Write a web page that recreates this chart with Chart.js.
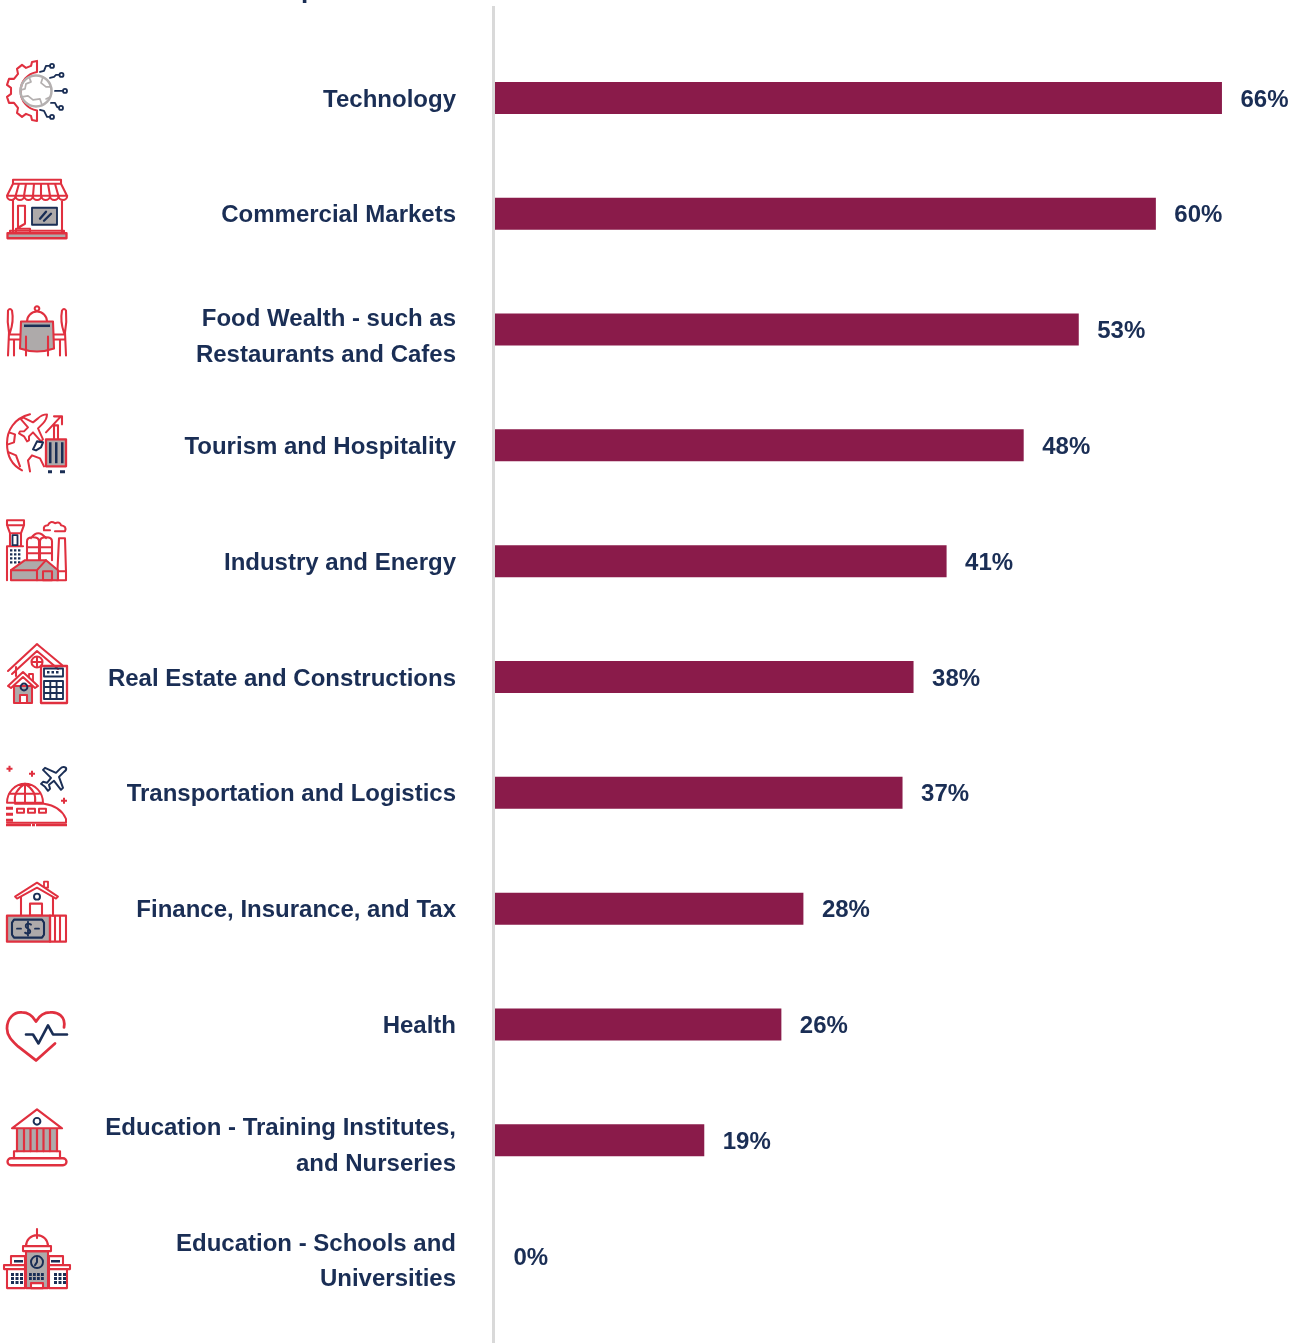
<!DOCTYPE html>
<html><head><meta charset="utf-8">
<style>html,body{margin:0;padding:0;background:#fff;overflow:hidden}canvas{display:block}</style>
<script src="https://cdn.jsdelivr.net/npm/chart.js@4"></script>
</head><body><canvas id="c" width="1305" height="1343"></canvas>
<script>
const categories = [
  "Technology","Commercial Markets",["Food Wealth - such as","Restaurants and Cafes"],
  "Tourism and Hospitality","Industry and Energy","Real Estate and Constructions",
  "Transportation and Logistics","Finance, Insurance, and Tax","Health",
  ["Education - Training Institutes,","and Nurseries"],["Education - Schools and","Universities"]
];
const values = [66,60,53,48,41,38,37,28,26,19,0];
const NAVY="#1a2e55", RED="#e0303f", GREY="#aeaaaa", BAR="#8a1b4a";
const FAMILY='"Liberation Sans", Arial, sans-serif';
const FONT='700 24px '+FAMILY;

/* icon path helpers */
const c=(x,y,r)=>`M${x-r} ${y}a${r} ${r} 0 1 0 ${2*r} 0a${r} ${r} 0 1 0 ${-2*r} 0Z`;
const r=(x,y,w,h)=>`M${x} ${y}h${w}v${h}h${-w}Z`;
const grid=(xs,ys,w,h)=>xs.map(x=>ys.map(y=>r(x,y,w,h)).join("")).join("");
const plus=(x,y)=>r(x-1,y-3,2,6)+r(x-3,y-1,6,2);
const S=(d,col,w=2,fill)=>({d,col,w,fill});
const F=(d,fill)=>({d,fill});
const icons=[
 {cy:98,l:[
  S("M37 72V61L32 62L31 66L26 68L22 65L17 69L18 74L14 79L9 79L7 85L11 88L11 94L7 97L9 103L14 103L18 108L17 113L22 117L26 114L31 116L32 120L37 121V110.5A19.5 19.5 0 0 1 37 72Z",RED,1.8),
  S(c(36,91,15.5),"#b4b0b0",2.2),
  S("M29 77L31 82L26 84L25 89L21 90M43 77L41 83L46 87L51 87M22 97L28 96L33 100L40 99L42 105M46 99L50 97","#b4b0b0",1.5),
  S("M40 72L44 71L46 66L50 66"+c(52,66,2)+"M50 78L54 77L56 75L59 75"+c(61.5,75,2)+"M55 91H63"+c(65,91,2)+"M51 103L55 103L57 107L59 108"+c(61,108,2)+"M40 110L44 111L47 117L50 117"+c(52,117,2),NAVY,1.6)]},
 {cy:214,l:[
  S("M13 180H61V184H13ZM13 184L7 196H67L61 184M7 196a4.3 4.3 0 0 0 8.6 0a4.3 4.3 0 0 0 8.6 0a4.3 4.3 0 0 0 8.6 0a4.3 4.3 0 0 0 8.6 0a4.3 4.3 0 0 0 8.6 0a4.3 4.3 0 0 0 8.6 0a4.3 4.3 0 0 0 8.6 0M15.6 196L19 184M24 196L26 184M33 196L34 184M41 196L41 184M50 196L48 184M58.4 196L55 184M13 200V232M62 200V232M18 229V206H25V224L18 228M16 232V229H30V232",RED,1.8),
  S(r(32,208,25,17),NAVY,1.6,GREY),S("M40 219L46 212M44 221L51 214",NAVY,2),
  S("M10 233V231H64V233",RED,1.8),S(r(7.5,233.5,59,5),RED,2,GREY)]},
 {cy:330,l:[
  S("M27 322A10 10 0 0 1 47 322"+c(37,309,2.3),RED,1.8),
  S("M21 322H53L54 349Q37 355 20 349Z",RED,1.8,GREY),F(r(24,325,26,2.5),NAVY),
  S("M26 337V356M48 337V356M8 311Q10 308 12 311Q14 322 10 333L9 333Q7 322 8 311ZM9 333L8 356M10 335H20M10 340H20M14 340V356M66 311Q64 308 62 311Q60 322 64 333L65 333Q67 322 66 311ZM65 333L66 356M64 335H54M64 340H54M60 340V356",RED,1.8)]},
 {cy:445,l:[
  S("M30 414C14 418 7 430 7 443C7 455 12 465 22 470M9 432L15 434L14 442L8 444M9 452L16 455L20 466M30 471L28 460L32 455L40 458L44 466",RED,1.8),
  S("M47 414Q42 414 38 418L33 422L23 417L21 419L28 427L24 431L20 431L19 433L24 436L27 441L29 440L29 436L33 432L41 441L43 439L38 428L43 423Q47 419 47 414Z",RED,1.7,"#fff"),
  S("M33 449L37 441L43 442L41 447L36 450Z",NAVY,1.8),
  S("M46 432L60 417M54 416H62V424M54 439V425H58V439",RED,1.8),
  S(r(46,439,20,27),RED,2,GREY),F(r(49,442,2.5,21)+r(55,442,2.5,21)+r(61,442,2.5,21)+r(48,470,4,3)+r(60,470,5,3),NAVY)]},
 {cy:561,l:[
  S("M7 520H24V525L21 533H10L7 525ZM7 525H24M10 533V546M21 533V546M7 580V546H23",RED,1.8),
  S(r(12.5,535,5,10),NAVY,1.6),F(grid([10,14,18],[549,553,557,561],2.4,2.4),NAVY),
  S("M27 560V541Q27 537 33 537Q39 537 39 541V560M40 560V541Q40 537 46 537Q52 537 52 541V560M31 538Q38 528 46 538M27 547H52M27 553H52",RED,1.8),
  S("M57 580L59 538H65L66 572M44 530Q43 525 48 525Q50 520 55 523Q60 521 61 525Q67 526 65 531H55M44 530H50",RED,1.8),
  S("M11 570L25 560H46L58 570V580H11Z",RED,1.8,GREY),S("M37 570L46 560M11 570H37V580"+r(43,571,9,9),RED,1.8),
  S(r(58,571,8,9),RED,1.8,"#fff")]},
 {cy:678,l:[
  S("M8 672L36 646Q37 644 38 646L62 666M12 675L37 652L58 670M16 677V668"+c(37,663,5.5)+"M37 657.5V668.5M31.5 663H42.5",RED,1.8),
  S(r(41,667,26,37),RED,2),S(r(44,669.5,19,8),NAVY,1.6),F(grid([47,51.5,56],[672,672],2.5,2.5),NAVY),
  S(r(44,682,19,18)+"M50.3 682V700M56.6 682V700M44 688H63M44 694H63",NAVY,1.6),
  S(r(29,675,4,8),RED,1.6),S(r(14,687,18,17),RED,1.8,GREY),
  S("M8 687L23 673L38 687L35 689L23 678L11 689Z",RED,1.8,"#fff"),
  S(c(24,688,3.4),NAVY,1.7),S(r(20,696,7,8),RED,1.8,"#fff")]},
 {cy:792,l:[
  S("M66 767Q63 765 60 768L56 772L45 767L43 769L51 777L47 782L43 781L41 783L45 786L48 790L50 788L49 784L54 780L61 789L63 787L59 776L64 771Q67 769 66 767Z",NAVY,1.7),
  F(plus(9.5,768)+plus(32,773)+plus(64,800),RED),
  S("M7 802A18 19 0 0 1 43 802ZM9 793H39M25 783V802M25 783Q13 790 15 802M25 783Q37 790 35 802",RED,1.7),
  S("M15 803H44Q60 805 66 818V822H7"+r(17,808,7,4)+r(28,808,7,4)+r(39,808,7,4),RED,1.7),
  F(r(6,806,7,3)+r(6,812,7,3)+r(6,818,7,3)+r(6,823,25,2.5)+r(32,823,3,2.5)+r(36,823,31,2.5),RED)]},
 {cy:908,l:[
  S(r(44,881,4,6),RED,1.6),S("M21 896V915M53 896V915"+r(30,903,12,12),RED,1.8),
  S("M15 896L37 882L58 896L56 898L37 887L17 898Z",RED,1.6,"#fff"),S(c(37,896,3),NAVY,1.7),
  S(r(7,915,43,26),RED,2,GREY),S(r(50,915,16,26)+"M55 915V941M60 915V941",RED,1.8),
  S("M12 922L14 919H42L44 922V934L42 937H14L12 934Z",NAVY,1.8),
  S("M31 924Q28 922 26 924Q25 927 28 928Q31 930 30 932Q28 934 25 932M28 921V935M17 928H21M35 928H39",NAVY,1.6)]},
 {cy:1024,l:[
  S("M64 1027C66 1016 58 1011 50 1012C44 1012 39 1016 36 1021C33 1016 28 1012 22 1012C14 1011 7 1018 7 1028C7 1036 13 1041 18 1046L36 1060L55 1043",RED,2.4),
  S("M26 1034H33L38.5 1043L48 1025L53 1034H67",NAVY,2.3)]},
 {cy:1140,l:[
  F(r(16,1128,41,23),GREY),
  S("M17 1128V1151M24 1128V1151M30.5 1128V1151M37 1128V1151M43.5 1128V1151M50 1128V1151M57 1128V1151",RED,1.9),
  S("M12 1128L37 1109L62 1128Z",RED,1.9,"#fff"),S(c(37,1121,3.4),NAVY,1.7),
  S("M14 1158V1151H60V1158",RED,1.9),S("M11 1158H63a3.5 3.5 0 0 1 0 7H11a3.5 3.5 0 0 1 0 -7Z",RED,2)]},
 {cy:1256,l:[
  S("M37 1229V1238M26 1246A11 11 0 0 1 48 1246",RED,1.8),
  S(r(11,1256,14,9)+r(49,1256,14,9)+r(7,1269,18,19)+r(49,1269,18,19)+r(4,1265,21,4)+r(49,1265,21,4),RED,1.8),
  F(r(14,1260,9,2.5)+r(51,1260,9,2.5)+grid([11,15.5,20,54,58.5,63],[1273,1277,1281],3,3),NAVY),
  S(r(26,1251,22,37),RED,1.8,GREY),S(r(23,1246,28,5),RED,1.8,"#fff"),
  S(c(37,1262,6)+"M37 1258V1262L35 1265",NAVY,1.7),F(grid([29,33,37,41],[1273,1277],2.8,2.8),NAVY),
  S(r(31,1283,12,5),RED,1.8,"#fff")]}
];

const decor={id:"decor",
 beforeDraw(ch){
   const y=ch.scales.y;
   if(!ch.$shifted){y.getLabelItems().forEach((it,i)=>{it.textOffset+=i===2?8:Array.isArray(it.label)?6:2;});ch.$shifted=true;}
 },
 afterDraw(ch){
   const g=ch.ctx,x0=ch.scales.x.getPixelForValue(0),y=ch.scales.y;
   g.save();
   /* axis rule */
   g.fillStyle="#d9d9d9";g.fillRect(x0-3,6,3,1337);
   /* clipped title fragment */
   g.font='700 26px '+FAMILY;g.fillStyle=NAVY;g.textAlign="left";g.textBaseline="alphabetic";
   g.fillText("p",301,-2);
   /* value labels */
   g.font=FONT;g.textBaseline="middle";
   values.forEach((v,i)=>g.fillText(v+"%",ch.scales.x.getPixelForValue(v)+18.5,y.getPixelForValue(i)+2));
   /* icons */
   icons.forEach((ic,i)=>{
     g.save();g.translate(0,y.getPixelForValue(i)-ic.cy);g.lineJoin="round";g.lineCap="round";
     ic.l.forEach(p=>{const P=new Path2D(p.d);
       if(p.fill){g.fillStyle=p.fill;g.fill(P);}
       if(p.col){g.strokeStyle=p.col;g.lineWidth=p.w*1.15;g.stroke(P);}});
     g.restore();
   });
   g.restore();
 }};

new Chart(document.getElementById("c"),{
 type:"bar",
 data:{labels:categories,datasets:[{data:values,backgroundColor:BAR,barThickness:32,borderWidth:0,inflateAmount:0}]},
 options:{indexAxis:"y",responsive:false,animation:false,
  layout:{autoPadding:false,padding:{top:40,bottom:29,left:0,right:0}},
  plugins:{legend:{display:false},tooltip:{enabled:false}},
  scales:{
   x:{min:0,max:73.54,display:false,grid:{display:false}},
   y:{afterFit(s){s.width=495;s.paddingTop=0;s.paddingBottom=0;},grid:{display:false,drawTicks:false},border:{display:false},
      ticks:{autoSkip:false,padding:39,color:NAVY,font:{family:FAMILY,size:24,weight:"700",lineHeight:35.5/24}}}
  }},
 plugins:[decor]
});
</script></body></html>
